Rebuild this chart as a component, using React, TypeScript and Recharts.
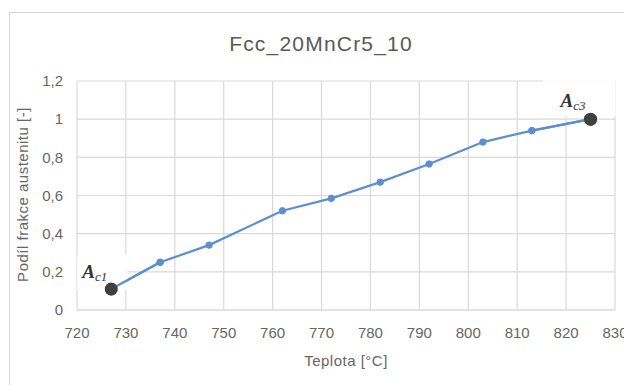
import { LineChart, Line, XAxis, YAxis, CartesianGrid } from "recharts";

// temperature [°C] and austenite fraction
const temps = [727, 737, 747, 762, 772, 782, 792, 803, 813, 825];
const fractions = [0.11, 0.25, 0.34, 0.52, 0.585, 0.67, 0.765, 0.88, 0.94, 1.0];
// subscripts of the Ac annotations (empty = plain point)
const labelSubs = ["c1", "", "", "", "", "", "", "", "", "c3"];

const xTicks = [720, 730, 740, 750, 760, 770, 780, 790, 800, 810, 820, 830];
const yTicks = [0, 0.2, 0.4, 0.6, 0.8, 1, 1.2];

const data = temps.map((t, i) => ({ temp: t, fraction: fractions[i], sub: labelSubs[i] }));

const LINE = "#5b8fcf";
const TEXT = "#666666";
const GRID = "#d9d9d9";
const FONT = "'Liberation Sans', Arial, sans-serif";
const AC_DOT = "#404040";

function MarkerDot(props: any) {
  const { cx, cy, index, payload } = props;
  if (payload.sub) {
    return <circle key={`m${index}`} cx={cx} cy={cy} r={6.5} fill={AC_DOT} />;
  }
  return <circle key={`m${index}`} cx={cx} cy={cy} r={3.2} fill={LINE} stroke={LINE} />;
}

// white box with the italic "A" + subscript; the dots layer sits above the
// curve, so the neighbouring segment and the Ac point are redrawn on top
function AnnotationDot(props: any) {
  const { cx, cy, index, payload, points } = props;
  if (!payload.sub) return <g key={`a${index}`} />;
  const first = index === 0;
  const box = first
    ? { x: cx - 34, y: cy - 34, w: 50, h: 35, tx: cx - 29, ty: cy - 11 }
    : { x: cx - 48, y: cy - 39, w: 73, h: 36, tx: cx - 30, ty: cy - 12 };
  const nb = points ? points[first ? index + 1 : index - 1] : null;
  return (
    <g key={`a${index}`}>
      <rect x={box.x} y={box.y} width={box.w} height={box.h} fill="#ffffff" />
      {nb && (
        <line x1={cx} y1={cy} x2={nb.x} y2={nb.y} stroke={LINE} strokeWidth={2.2} />
      )}
      {nb && <circle cx={nb.x} cy={nb.y} r={3.2} fill={LINE} stroke={LINE} />}
      <circle cx={cx} cy={cy} r={6.5} fill={AC_DOT} />
      <text
        x={box.tx}
        y={box.ty}
        fill="#333333"
        fontFamily="'Liberation Serif', 'Times New Roman', serif"
        fontStyle="italic"
        fontWeight="bold"
        fontSize={19}
      >
        A
        <tspan fontSize={13} fontWeight="normal" dy={3}>
          {payload.sub}
        </tspan>
      </text>
    </g>
  );
}

function YTitle(props: any) {
  const { viewBox } = props;
  const x = viewBox.x + 24;
  const y = viewBox.y + viewBox.height / 2 - 1;
  return (
    <text
      x={x}
      y={y}
      transform={`rotate(-90 ${x} ${y})`}
      textAnchor="middle"
      dominantBaseline="middle"
      fill={TEXT}
      fontSize={15}
      letterSpacing={0.5}
      fontFamily={FONT}
    >
      Podíl frakce austenitu [-]
    </text>
  );
}

export default function App() {
  return (
    <div
      style={{
        position: "absolute",
        left: 0,
        top: 0,
        width: 624,
        height: 385,
        background: "#ffffff",
        overflow: "hidden",
        fontFamily: FONT,
      }}
    >
      <div
        style={{
          position: "absolute",
          left: 9,
          top: 12,
          width: 640,
          height: 400,
          border: "1px solid #d4d4d4",
        }}
      />
      <div
        style={{
          position: "absolute",
          left: 9,
          top: 31,
          width: 624,
          textAlign: "center",
          fontSize: 21,
          letterSpacing: 1.2,
          color: "#595959",
          lineHeight: "26px",
        }}
      >
        Fcc_20MnCr5_10
      </div>
      <div style={{ position: "absolute", left: 0, top: 0 }}>
        <LineChart
          width={624}
          height={385}
          data={data}
          margin={{ top: 81, right: 9, bottom: 25, left: 0 }}
        >
          <CartesianGrid stroke={GRID} strokeWidth={1.2} />
          <XAxis
            dataKey="temp"
            type="number"
            domain={[720, 830]}
            ticks={xTicks}
            interval={0}
            height={50}
            axisLine={{ stroke: GRID, strokeWidth: 1.2 }}
            tickLine={false}
            tickSize={0}
            tickMargin={17}
            tick={{ fill: TEXT, fontSize: 15, fontFamily: FONT }}
            label={{
              value: "Teplota [°C]",
              position: "insideBottom",
              offset: -6,
              fill: TEXT,
              fontSize: 15,
              letterSpacing: 0.5,
              fontFamily: FONT,
            }}
          />
          <YAxis
            type="number"
            domain={[0, 1.2]}
            ticks={yTicks}
            interval={0}
            width={77}
            axisLine={false}
            tickLine={false}
            tickSize={0}
            tickMargin={14}
            tick={{ fill: TEXT, fontSize: 15, fontFamily: FONT }}
            tickFormatter={(v: number) => String(v).replace(".", ",")}
            label={<YTitle />}
          />
          <Line
            dataKey="fraction"
            type="linear"
            stroke={LINE}
            strokeWidth={2.2}
            dot={MarkerDot}
            activeDot={false}
            isAnimationActive={false}
          />
          <Line
            dataKey="fraction"
            stroke="none"
            dot={AnnotationDot}
            activeDot={false}
            isAnimationActive={false}
            legendType="none"
          />
        </LineChart>
      </div>
    </div>
  );
}
